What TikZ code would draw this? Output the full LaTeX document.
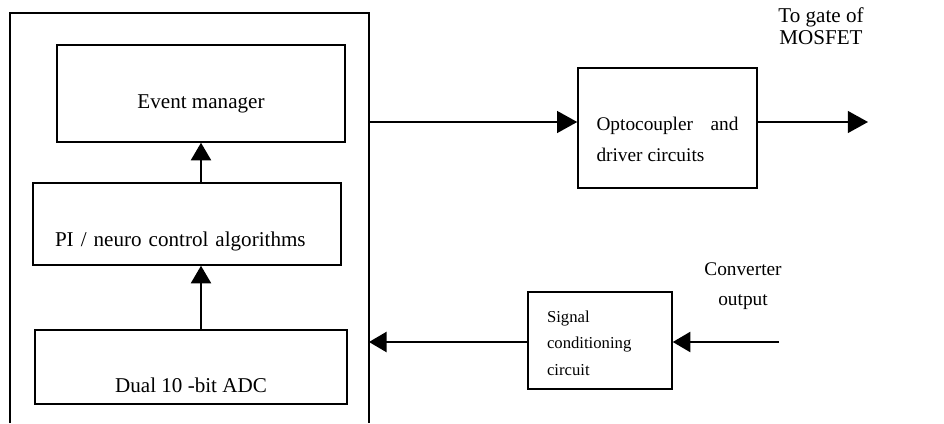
\documentclass[tikz,border=0pt]{standalone}
\usepackage{fontspec}
\setmainfont{Liberation Serif}
\usetikzlibrary{arrows.meta}
\tikzset{
  blockbox/.style={draw, line width=0.9pt, inner ysep=0pt},
  flow/.style={line width=0.9pt, -{Triangle[length=10pt,width=11.5pt]}},
  bigflow/.style={line width=0.9pt, -{Triangle[length=11.5pt,width=12.5pt]}}
}
\begin{document}
\begin{tikzpicture}[x=0.02cm,y=-0.02cm]
			\useasboundingbox (0,0) rectangle (944,423);
			\coordinate (dspbl) at (10,423);
			\coordinate (dsptr) at (369,13);
			\coordinate (dspbr) at (369,423);
			\coordinate (gate) at (868,122);
			\coordinate (conv) at (779,342);
			\draw [line width=0.9pt] (dspbl) |- (dsptr) -- (dspbr);
			\node [blockbox, minimum width=5.76cm, text height=1.26cm, text depth=0.68cm, font=\fontsize{12}{14}\selectfont] (evt) at (201,93.5) {Event manager};
			\node [blockbox, inner xsep=0.44cm, text width=5.28cm, align=left, text height=1.28cm, text depth=0.36cm, font=\fontsize{12}{14}\selectfont] (pi) at (187,224) {PI / neuro control algorithms};
			\node [blockbox, minimum width=6.24cm, text height=1.26cm, text depth=0.22cm, font=\fontsize{12}{14}\selectfont] (adc) at (191,367) {Dual 10 -bit ADC};
			\node [blockbox, inner xsep=0.37cm, text height=1.24cm, text depth=1.16cm, font=\fontsize{11}{18}\selectfont] (opto) at (667.5,128) {\parbox[t]{2.84cm}{Optocoupler and driver circuits}};
			\node [blockbox, inner xsep=0.38cm, text height=0.6cm, text depth=1.34cm, font=\fontsize{9.5}{15.3}\selectfont] (sig) at (600,340.5) {\parbox[t]{2.12cm}{\raggedright Signal\\ conditioning\\ circuit}};
			\node [anchor=north, inner sep=0pt, align=center, font=\fontsize{12}{12.5}\selectfont] (gatetext) at (821,7) {To gate of\\ MOSFET};
			\node [anchor=north, inner sep=0pt, align=center, font=\fontsize{11}{17}\selectfont] (convtext) at (743,262) {Converter\\ output};
			\draw [flow] (pi.north -| evt.south) -- (evt.south);
			\draw [flow] (adc.north -| evt.south) -- (pi.south -| evt.south);
			\draw [bigflow] (dsptr |- gate) -- (opto.west |- gate);
			\draw [bigflow] (opto.east |- gate) -- (gate);
			\draw [flow] (conv) -- (sig.east |- conv);
			\draw [flow] (sig.west |- conv) -- (dsptr |- conv);
		\end{tikzpicture}
\end{document}
